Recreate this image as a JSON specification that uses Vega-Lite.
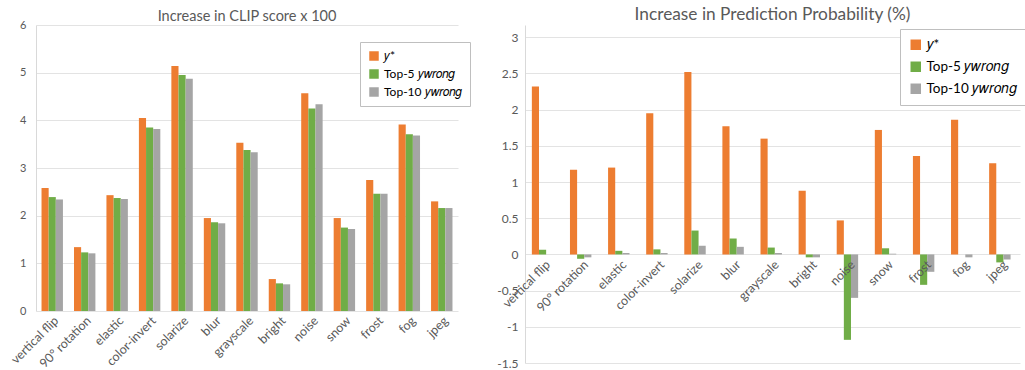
{
  "$schema": "https://vega.github.io/schema/vega-lite/v6.json",
  "background": "white",
  "padding": {"left": 8, "top": 5, "right": 0, "bottom": 0},
  "spacing": 25,
  "config": {
    "font": "Lato",
    "view": {"stroke": null},
    "axis": {"labelColor": "#595959", "labelFont": "Lato", "gridColor": "#E3E3E3", "domainColor": "#D9D9D9", "ticks": false},
    "title": {"color": "#595959", "font": "Lato", "fontWeight": "normal", "anchor": "middle"},
    "legend": {"labelFont": "Lato", "labelColor": "#000000"}
  },
  "data": {"values": [
    {"cat": "vertical flip", "series": "𝑦*", "clip": 2.58, "prob": 2.32},
    {"cat": "vertical flip", "series": "Top-5 𝑦𝑤𝑟𝑜𝑛𝑔", "clip": 2.39, "prob": 0.065},
    {"cat": "vertical flip", "series": "Top-10 𝑦𝑤𝑟𝑜𝑛𝑔", "clip": 2.34, "prob": 0.0},
    {"cat": "90° rotation", "series": "𝑦*", "clip": 1.34, "prob": 1.17},
    {"cat": "90° rotation", "series": "Top-5 𝑦𝑤𝑟𝑜𝑛𝑔", "clip": 1.23, "prob": -0.06},
    {"cat": "90° rotation", "series": "Top-10 𝑦𝑤𝑟𝑜𝑛𝑔", "clip": 1.21, "prob": -0.04},
    {"cat": "elastic", "series": "𝑦*", "clip": 2.43, "prob": 1.2},
    {"cat": "elastic", "series": "Top-5 𝑦𝑤𝑟𝑜𝑛𝑔", "clip": 2.37, "prob": 0.05},
    {"cat": "elastic", "series": "Top-10 𝑦𝑤𝑟𝑜𝑛𝑔", "clip": 2.35, "prob": 0.02},
    {"cat": "color-invert", "series": "𝑦*", "clip": 4.05, "prob": 1.95},
    {"cat": "color-invert", "series": "Top-5 𝑦𝑤𝑟𝑜𝑛𝑔", "clip": 3.85, "prob": 0.07},
    {"cat": "color-invert", "series": "Top-10 𝑦𝑤𝑟𝑜𝑛𝑔", "clip": 3.82, "prob": 0.02},
    {"cat": "solarize", "series": "𝑦*", "clip": 5.14, "prob": 2.52},
    {"cat": "solarize", "series": "Top-5 𝑦𝑤𝑟𝑜𝑛𝑔", "clip": 4.95, "prob": 0.33},
    {"cat": "solarize", "series": "Top-10 𝑦𝑤𝑟𝑜𝑛𝑔", "clip": 4.87, "prob": 0.12},
    {"cat": "blur", "series": "𝑦*", "clip": 1.95, "prob": 1.77},
    {"cat": "blur", "series": "Top-5 𝑦𝑤𝑟𝑜𝑛𝑔", "clip": 1.86, "prob": 0.22},
    {"cat": "blur", "series": "Top-10 𝑦𝑤𝑟𝑜𝑛𝑔", "clip": 1.84, "prob": 0.105},
    {"cat": "grayscale", "series": "𝑦*", "clip": 3.53, "prob": 1.6},
    {"cat": "grayscale", "series": "Top-5 𝑦𝑤𝑟𝑜𝑛𝑔", "clip": 3.38, "prob": 0.095},
    {"cat": "grayscale", "series": "Top-10 𝑦𝑤𝑟𝑜𝑛𝑔", "clip": 3.33, "prob": 0.02},
    {"cat": "bright", "series": "𝑦*", "clip": 0.67, "prob": 0.88},
    {"cat": "bright", "series": "Top-5 𝑦𝑤𝑟𝑜𝑛𝑔", "clip": 0.58, "prob": -0.04},
    {"cat": "bright", "series": "Top-10 𝑦𝑤𝑟𝑜𝑛𝑔", "clip": 0.56, "prob": -0.04},
    {"cat": "noise", "series": "𝑦*", "clip": 4.57, "prob": 0.47},
    {"cat": "noise", "series": "Top-5 𝑦𝑤𝑟𝑜𝑛𝑔", "clip": 4.25, "prob": -1.18},
    {"cat": "noise", "series": "Top-10 𝑦𝑤𝑟𝑜𝑛𝑔", "clip": 4.34, "prob": -0.6},
    {"cat": "snow", "series": "𝑦*", "clip": 1.95, "prob": 1.72},
    {"cat": "snow", "series": "Top-5 𝑦𝑤𝑟𝑜𝑛𝑔", "clip": 1.75, "prob": 0.085},
    {"cat": "snow", "series": "Top-10 𝑦𝑤𝑟𝑜𝑛𝑔", "clip": 1.72, "prob": 0.01},
    {"cat": "frost", "series": "𝑦*", "clip": 2.75, "prob": 1.36},
    {"cat": "frost", "series": "Top-5 𝑦𝑤𝑟𝑜𝑛𝑔", "clip": 2.46, "prob": -0.42},
    {"cat": "frost", "series": "Top-10 𝑦𝑤𝑟𝑜𝑛𝑔", "clip": 2.46, "prob": -0.24},
    {"cat": "fog", "series": "𝑦*", "clip": 3.91, "prob": 1.86},
    {"cat": "fog", "series": "Top-5 𝑦𝑤𝑟𝑜𝑛𝑔", "clip": 3.71, "prob": 0.0},
    {"cat": "fog", "series": "Top-10 𝑦𝑤𝑟𝑜𝑛𝑔", "clip": 3.68, "prob": -0.04},
    {"cat": "jpeg", "series": "𝑦*", "clip": 2.3, "prob": 1.26},
    {"cat": "jpeg", "series": "Top-5 𝑦𝑤𝑟𝑜𝑛𝑔", "clip": 2.16, "prob": -0.11},
    {"cat": "jpeg", "series": "Top-10 𝑦𝑤𝑟𝑜𝑛𝑔", "clip": 2.16, "prob": -0.07}
  ]},
  "resolve": {"legend": {"color": "independent"}, "scale": {"y": "independent"}},
  "hconcat": [
    {
      "width": 422,
      "height": 286,
      "title": {"text": "Increase in CLIP score x 100", "fontSize": 14.5, "offset": -5},
      "mark": {"type": "bar"},
      "encoding": {
        "x": {"field": "cat", "type": "nominal", "sort": null, "title": null,
              "scale": {"paddingInner": 0.34, "paddingOuter": 0.17},
              "axis": {"labelAngle": -45, "labelFontSize": 12.5, "domain": false, "labelPadding": 3}},
        "xOffset": {"field": "series", "type": "nominal", "sort": null,
                    "scale": {"domain": ["𝑦*", "Top-5 𝑦𝑤𝑟𝑜𝑛𝑔", "Top-10 𝑦𝑤𝑟𝑜𝑛𝑔"]}},
        "y": {"field": "clip", "type": "quantitative", "title": null,
              "scale": {"domain": [0, 6], "nice": false},
              "axis": {"values": [0, 1, 2, 3, 4, 5, 6], "labelFontSize": 11, "labelPadding": 10}},
        "color": {"field": "series", "type": "nominal", "title": null,
                  "scale": {"domain": ["𝑦*", "Top-5 𝑦𝑤𝑟𝑜𝑛𝑔", "Top-10 𝑦𝑤𝑟𝑜𝑛𝑔"], "range": ["#ED7D31", "#70AD47", "#A5A5A5"]},
                  "legend": {"orient": "none", "legendX": 324, "legendY": 17, "symbolType": "square", "symbolSize": 90,
                             "labelFontSize": 12, "strokeColor": "#BFBFBF", "fillColor": "white", "padding": 8, "rowPadding": 6}}
      }
    },
    {
      "width": 495,
      "height": 338,
      "title": {"text": "Increase in Prediction Probability (%)", "fontSize": 17.3, "offset": 2},
      "mark": {"type": "bar"},
      "encoding": {
        "x": {"field": "cat", "type": "nominal", "sort": null, "title": null,
              "scale": {"paddingInner": 0.37, "paddingOuter": 0.18},
              "axis": {"labelAngle": -45, "labelFontSize": 12.5, "domain": false, "offset": -109, "labelPadding": 4, "zindex": 1}},
        "xOffset": {"field": "series", "type": "nominal", "sort": null,
                    "scale": {"domain": ["𝑦*", "Top-5 𝑦𝑤𝑟𝑜𝑛𝑔", "Top-10 𝑦𝑤𝑟𝑜𝑛𝑔"]}},
        "y": {"field": "prob", "type": "quantitative", "title": null,
              "scale": {"domain": [-1.5, 3.17], "nice": false},
              "axis": {"values": [-1.5, -1, -0.5, 0, 0.5, 1, 1.5, 2, 2.5, 3], "labelFontSize": 12, "labelPadding": 7,
                       "labelExpr": "replace(format(datum.value, '~g'), '\u2212', '-')"}},
        "color": {"field": "series", "type": "nominal", "title": null,
                  "scale": {"domain": ["𝑦*", "Top-5 𝑦𝑤𝑟𝑜𝑛𝑔", "Top-10 𝑦𝑤𝑟𝑜𝑛𝑔"], "range": ["#ED7D31", "#70AD47", "#A5A5A5"]},
                  "legend": {"orient": "none", "legendX": 375, "legendY": 4, "symbolType": "square", "symbolSize": 110,
                             "labelFontSize": 13.5, "strokeColor": "#BFBFBF", "fillColor": "white", "padding": 9, "rowPadding": 7}}
      }
    }
  ]
}
